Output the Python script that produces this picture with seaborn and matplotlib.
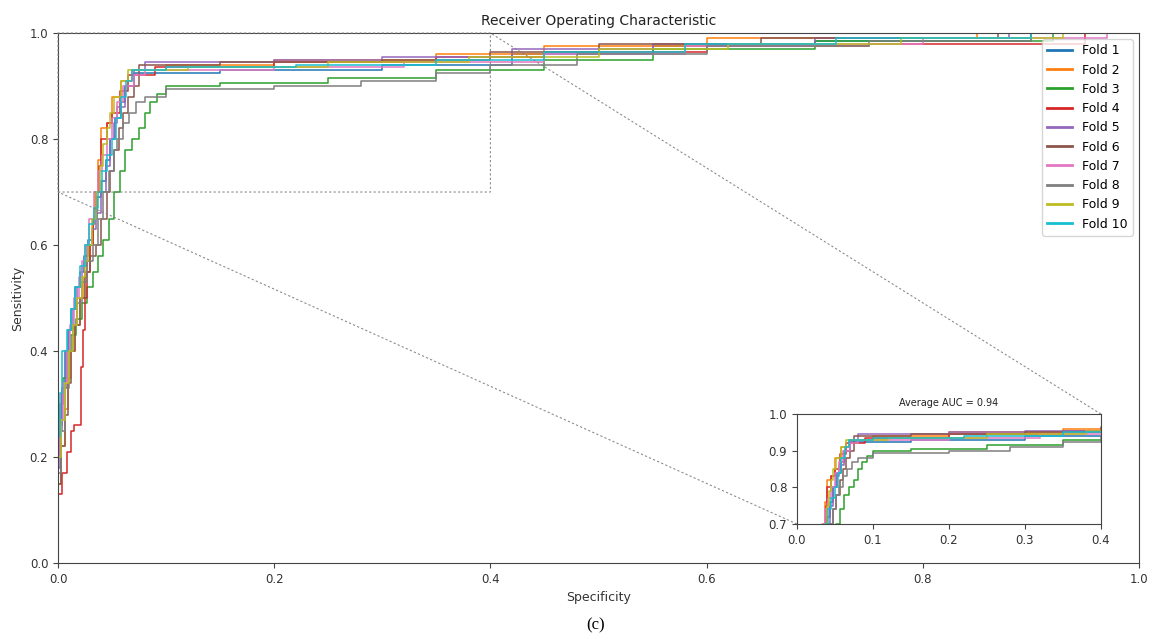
import matplotlib
matplotlib.use('Agg')
import matplotlib.pyplot as plt
import pandas as pd
import seaborn as sns

# ROC points per fold (fpr where tpr jumps, new tpr)
fold1_fpr = [0, 0, 0.002, 0.004, 0.006, 0.009, 0.012, 0.016, 0.02, 0.024, 0.028, 0.032, 0.036, 0.040, 0.044, 0.048, 0.053, 0.058, 0.062, 0.07, 0.15, 0.3, 0.42, 0.55, 0.7, 0.9, 1.0]
fold1_tpr = [0, 0.20, 0.26, 0.33, 0.40, 0.44, 0.48, 0.52, 0.55, 0.58, 0.61, 0.65, 0.69, 0.72, 0.76, 0.80, 0.84, 0.87, 0.90, 0.925, 0.93, 0.94, 0.96, 0.975, 0.985, 1.0, 1.0]

fold2_fpr = [0, 0, 0.003, 0.006, 0.009, 0.012, 0.016, 0.02, 0.024, 0.027, 0.03, 0.032, 0.034, 0.037, 0.04, 0.045, 0.05, 0.058, 0.068, 0.1, 0.2, 0.35, 0.45, 0.6, 0.85, 1.0]
fold2_tpr = [0, 0.15, 0.22, 0.29, 0.35, 0.40, 0.45, 0.50, 0.54, 0.57, 0.60, 0.64, 0.70, 0.76, 0.82, 0.83, 0.88, 0.91, 0.93, 0.94, 0.95, 0.96, 0.975, 0.99, 1.0, 1.0]

fold3_fpr = [0, 0, 0.002, 0.005, 0.008, 0.012, 0.017, 0.022, 0.027, 0.032, 0.037, 0.042, 0.047, 0.052, 0.057, 0.062, 0.068, 0.075, 0.08, 0.085, 0.092, 0.1, 0.15, 0.25, 0.35, 0.45, 0.55, 0.7, 0.92, 1.0]
fold3_tpr = [0, 0.25, 0.30, 0.35, 0.40, 0.43, 0.46, 0.49, 0.52, 0.55, 0.58, 0.61, 0.65, 0.70, 0.74, 0.78, 0.80, 0.82, 0.85, 0.87, 0.885, 0.90, 0.905, 0.915, 0.93, 0.95, 0.97, 0.985, 1.0, 1.0]

fold4_fpr = [0, 0, 0.004, 0.008, 0.012, 0.015, 0.021, 0.023, 0.025, 0.027, 0.03, 0.032, 0.035, 0.038, 0.04, 0.045, 0.05, 0.057, 0.065, 0.09, 0.2, 0.35, 0.45, 0.6, 0.75, 0.95, 1.0]
fold4_tpr = [0, 0.13, 0.17, 0.21, 0.25, 0.26, 0.37, 0.44, 0.50, 0.55, 0.60, 0.65, 0.70, 0.75, 0.80, 0.83, 0.85, 0.89, 0.92, 0.935, 0.945, 0.955, 0.965, 0.975, 0.98, 1.0, 1.0]

fold5_fpr = [0, 0, 0.002, 0.004, 0.007, 0.01, 0.014, 0.018, 0.022, 0.027, 0.031, 0.035, 0.04, 0.044, 0.048, 0.052, 0.055, 0.062, 0.07, 0.08, 0.2, 0.3, 0.42, 0.55, 0.7, 0.88, 1.0]
fold5_tpr = [0, 0.18, 0.25, 0.33, 0.40, 0.44, 0.48, 0.52, 0.56, 0.60, 0.63, 0.66, 0.70, 0.75, 0.80, 0.83, 0.86, 0.90, 0.93, 0.945, 0.95, 0.955, 0.97, 0.98, 0.99, 1.0, 1.0]

fold6_fpr = [0, 0, 0.003, 0.006, 0.009, 0.012, 0.016, 0.02, 0.025, 0.03, 0.035, 0.04, 0.045, 0.048, 0.052, 0.056, 0.06, 0.065, 0.07, 0.075, 0.15, 0.3, 0.4, 0.5, 0.65, 0.87, 1.0]
fold6_tpr = [0, 0.15, 0.22, 0.28, 0.34, 0.40, 0.45, 0.50, 0.55, 0.58, 0.60, 0.65, 0.70, 0.74, 0.78, 0.82, 0.85, 0.88, 0.90, 0.94, 0.945, 0.95, 0.965, 0.98, 0.99, 1.0, 1.0]

fold7_fpr = [0, 0, 0.002, 0.005, 0.008, 0.011, 0.015, 0.019, 0.022, 0.025, 0.029, 0.033, 0.037, 0.041, 0.045, 0.05, 0.055, 0.06, 0.07, 0.08, 0.2, 0.32, 0.45, 0.58, 0.7, 0.8, 0.97, 1.0]
fold7_tpr = [0, 0.20, 0.27, 0.34, 0.40, 0.45, 0.50, 0.54, 0.57, 0.60, 0.65, 0.70, 0.74, 0.77, 0.80, 0.84, 0.87, 0.90, 0.92, 0.93, 0.935, 0.945, 0.96, 0.975, 0.98, 0.99, 1.0, 1.0]

fold8_fpr = [0, 0, 0.003, 0.006, 0.01, 0.014, 0.018, 0.022, 0.027, 0.032, 0.037, 0.042, 0.047, 0.052, 0.055, 0.06, 0.066, 0.072, 0.08, 0.1, 0.2, 0.28, 0.35, 0.4, 0.48, 0.6, 0.75, 0.9, 1.0]
fold8_tpr = [0, 0.17, 0.25, 0.33, 0.40, 0.45, 0.49, 0.53, 0.57, 0.60, 0.65, 0.70, 0.74, 0.78, 0.80, 0.83, 0.85, 0.87, 0.88, 0.895, 0.90, 0.91, 0.925, 0.94, 0.96, 0.975, 0.985, 1.0, 1.0]

fold9_fpr = [0, 0, 0.003, 0.006, 0.01, 0.014, 0.018, 0.022, 0.025, 0.028, 0.031, 0.035, 0.039, 0.042, 0.045, 0.048, 0.052, 0.058, 0.065, 0.12, 0.25, 0.38, 0.5, 0.62, 0.78, 0.93, 1.0]
fold9_tpr = [0, 0.20, 0.27, 0.34, 0.40, 0.45, 0.50, 0.54, 0.57, 0.60, 0.65, 0.70, 0.75, 0.79, 0.82, 0.85, 0.88, 0.91, 0.93, 0.935, 0.945, 0.955, 0.97, 0.98, 0.99, 1.0, 1.0]

fold10_fpr = [0, 0, 0.002, 0.004, 0.008, 0.012, 0.016, 0.02, 0.025, 0.029, 0.033, 0.037, 0.041, 0.045, 0.05, 0.054, 0.058, 0.063, 0.068, 0.1, 0.22, 0.35, 0.45, 0.58, 0.72, 0.9, 1.0]
fold10_tpr = [0, 0.24, 0.32, 0.40, 0.44, 0.48, 0.52, 0.56, 0.60, 0.64, 0.67, 0.70, 0.74, 0.77, 0.80, 0.84, 0.88, 0.91, 0.93, 0.935, 0.94, 0.95, 0.965, 0.98, 0.99, 1.0, 1.0]

fold_names = ['Fold 1', 'Fold 2', 'Fold 3', 'Fold 4', 'Fold 5', 'Fold 6', 'Fold 7', 'Fold 8', 'Fold 9', 'Fold 10']
folds = [(fold1_fpr, fold1_tpr), (fold2_fpr, fold2_tpr), (fold3_fpr, fold3_tpr), (fold4_fpr, fold4_tpr),
         (fold5_fpr, fold5_tpr), (fold6_fpr, fold6_tpr), (fold7_fpr, fold7_tpr), (fold8_fpr, fold8_tpr),
         (fold9_fpr, fold9_tpr), (fold10_fpr, fold10_tpr)]

rows = []
for name, (fpr, tpr) in zip(fold_names, folds):
    for k, (x, y) in enumerate(zip(fpr, tpr)):
        rows.append({'fold': name, 'step': k, 'fpr': x, 'tpr': y})
df = pd.DataFrame(rows)

plt.rcParams['axes.edgecolor'] = '#444444'
plt.rcParams['xtick.color'] = '#444444'
plt.rcParams['ytick.color'] = '#444444'

fig = plt.figure(figsize=(11.49, 6.39), dpi=100)
ax = fig.add_axes([0.0505, 0.1189, 0.9408, 0.8294])

sns.lineplot(data=df, x='fpr', y='tpr', hue='fold', hue_order=fold_names, palette='tab10',
             estimator=None, sort=False, drawstyle='steps-post', linewidth=1.1, ax=ax)
ax.set_xlim(0, 1)
ax.set_ylim(0, 1)
ax.set_xticks([0, 0.2, 0.4, 0.6, 0.8, 1.0])
ax.set_yticks([0, 0.2, 0.4, 0.6, 0.8, 1.0])
ax.tick_params(labelsize=8.5, labelcolor='#333333')
ax.set_xlabel('Specificity', fontsize=9, color='#333333')
ax.set_ylabel('Sensitivity', fontsize=9, color='#333333')
ax.set_title('Receiver Operating Characteristic', fontsize=10, color='#222222')

handles, labels = ax.get_legend_handles_labels()
leg = ax.legend(handles, labels, loc='upper right', fontsize=9)
for h in leg.get_lines():
    h.set_linewidth(2)

# zoomed inset
axins = ax.inset_axes([0.6836, 0.0736, 0.2812, 0.2075])
sns.lineplot(data=df, x='fpr', y='tpr', hue='fold', hue_order=fold_names, palette='tab10',
             estimator=None, sort=False, drawstyle='steps-post', linewidth=1.1, legend=False, ax=axins)
axins.set_xlim(0, 0.4)
axins.set_ylim(0.7, 1.0)
axins.set_xticks([0, 0.1, 0.2, 0.3, 0.4])
axins.set_yticks([0.7, 0.8, 0.9, 1.0])
axins.tick_params(labelsize=8.5, labelcolor='#333333')
axins.set_xlabel('')
axins.set_ylabel('')
axins.set_title('Average AUC = 0.94', fontsize=7, color='#222222')

ax.indicate_inset_zoom(axins, edgecolor='0.5', linestyle=(0, (2, 2)), linewidth=0.8, alpha=0.9)

fig.text(0.518, 0.022, '(c)', family='Liberation Serif', fontsize=12, ha='center', va='center')

fig.savefig('out.png', dpi=100)
